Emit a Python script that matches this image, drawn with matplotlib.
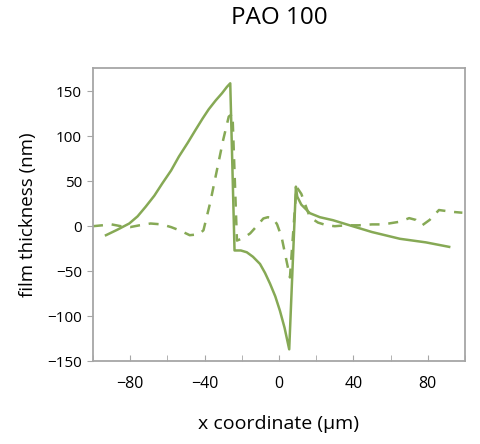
import matplotlib
matplotlib.use("Agg")
import matplotlib.pyplot as plt
from matplotlib.ticker import MultipleLocator

plt.rcParams['font.family'] = ['Open Sans', 'DejaVu Sans']

# solid line
solid_x = [-93, -87, -80.5, -76, -71.7, -67, -62.7, -58, -53.8, -49, -44.9, -41, -37.8, -34, -30.6, -28, -26.2,
           -23.9, -20.5, -17.3, -14, -10.2, -7.5, -4.8, -2, 0.5, 3, 5.5,
           9.1, 9.8, 12, 16.6, 22, 29, 38, 50, 65, 79, 91.5]
solid_y = [-10, -4, 3, 11, 21.6, 34, 47.7, 62, 77.5, 93, 107, 120, 130, 140, 148, 155, 159,
           -27, -27, -29, -34, -42, -52, -64, -78, -94, -113, -137,
           44, 33, 24, 14.5, 10, 6.7, 1, -6.5, -14, -18, -23]

# dashed line
dash_x = [-100, -95, -90, -85, -80, -75, -69, -63, -58, -53, -48, -43, -40.6, -37, -33, -30, -27, -25,
          -22.6, -19, -15.5, -12, -8.4, -6, -3.2, -1, 1.4, 4, 5.9, 9.4, 12, 16.6, 21, 25.7, 30, 36, 43,
          50, 55, 59, 65, 70, 73.6, 77, 81, 86, 93, 98.6]
dash_y = [0, 1, 2, 0, -1, 1, 3, 2, -1, -5, -10, -9, -4.5, 26, 66, 96, 122, 125,
          -16, -13, -8, 0, 8.6, 10, 9, 2, -12, -38, -57, 44, 36, 10, 4, 1, 0, 1, 1,
          2, 2, 3, 5, 9, 7, 1, 7, 18, 16, 15]

xticks = [-80, -40, 0, 40, 80]
yticks = [-150, -100, -50, 0, 50, 100, 150]

green = '#86a955'
frame = '#a6a6a6'

fig = plt.figure(figsize=(4.81, 4.44), dpi=100)
ax = fig.add_axes([0.1933, 0.1869, 0.7734, 0.6599])

ax.plot(solid_x, solid_y, color=green, lw=1.8, solid_joinstyle='round')
ax.plot(dash_x, dash_y, color=green, lw=1.8, dashes=(4, 3.5))

ax.set_xlim(-100, 100)
ax.set_ylim(-150, 176)
ax.set_xticks(xticks)
ax.xaxis.set_minor_locator(MultipleLocator(20))
ax.set_yticks(yticks)

for s in ax.spines.values():
    s.set_color(frame)
    s.set_linewidth(1.3)

ax.tick_params(axis='x', which='both', direction='in', length=4, color=frame, labelsize=11.5, pad=11)
ax.tick_params(axis='y', direction='out', length=4, color=frame, labelsize=11, pad=4)
ax.tick_params(axis='x', which='minor', length=4)

ax.set_title('PAO 100', fontsize=17.5, pad=32)
ax.set_xlabel('x coordinate (\u00b5m)', fontsize=14, labelpad=16)
ax.set_ylabel('film thickness (nm)', fontsize=13.5, labelpad=7)

fig.savefig('out.png', dpi=100)
